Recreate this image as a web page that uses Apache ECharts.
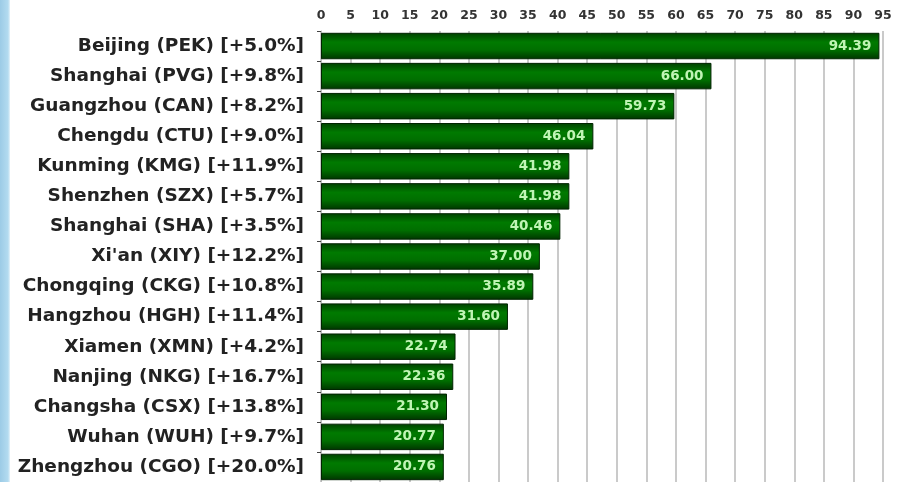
<!DOCTYPE html>
<html>
<head>
<meta charset="utf-8">
<script src="https://cdn.jsdelivr.net/npm/echarts@6/dist/echarts.min.js"></script>
<style>html,body{margin:0;padding:0;background:#fff;}#c{width:904px;height:482px;}</style>
</head>
<body>
<div id="c"></div>
<script>
const categories = [
  "Beijing (PEK) [+5.0%]",
  "Shanghai (PVG) [+9.8%]",
  "Guangzhou (CAN) [+8.2%]",
  "Chengdu (CTU) [+9.0%]",
  "Kunming (KMG) [+11.9%]",
  "Shenzhen (SZX) [+5.7%]",
  "Shanghai (SHA) [+3.5%]",
  "Xi'an (XIY) [+12.2%]",
  "Chongqing (CKG) [+10.8%]",
  "Hangzhou (HGH) [+11.4%]",
  "Xiamen (XMN) [+4.2%]",
  "Nanjing (NKG) [+16.7%]",
  "Changsha (CSX) [+13.8%]",
  "Wuhan (WUH) [+9.7%]",
  "Zhengzhou (CGO) [+20.0%]"
];
const values = [94.39, 66.00, 59.73, 46.04, 41.98, 41.98, 40.46, 37.00, 35.89, 31.60, 22.74, 22.36, 21.30, 20.77, 20.76];
const xMin = 0, xMax = 95, xStep = 5;

const chart = echarts.init(document.getElementById('c'), null, {renderer: 'canvas'});
chart.setOption({
  animation: false,
  backgroundColor: '#ffffff',
  graphic: [{
    type: 'rect', left: 0, top: 0, z: 100,
    shape: {width: 10, height: 482},
    style: {fill: new echarts.graphic.LinearGradient(0, 0, 1, 0, [
      {offset: 0, color: '#9ccbe6'}, {offset: 0.8, color: '#b3dbf0'}, {offset: 1, color: '#e6f3fa'}
    ])}
  }],
  grid: {left: 321, right: 21, top: 31, bottom: -1, containLabel: false},
  xAxis: {
    type: 'value', position: 'top', min: xMin, max: xMax, interval: xStep,
    axisLine: {show: false}, axisTick: {show: false},
    splitLine: {show: true, lineStyle: {color: '#b8b8b8', width: 1.5}},
    axisLabel: {color: '#333', fontFamily: 'DejaVu Sans', fontWeight: 'bold', fontSize: 12.5, margin: 9}
  },
  yAxis: {
    type: 'category', data: categories, inverse: true,
    axisLine: {show: true, lineStyle: {color: '#bbb'}},
    axisTick: {show: true, length: 4, lineStyle: {color: '#444'}},
    axisLabel: {color: '#222', fontFamily: 'DejaVu Sans', fontWeight: 'bold', fontSize: 18.5, margin: 17}
  },
  series: [{
    type: 'bar', data: values, barCategoryGap: '12%',
    itemStyle: {
      color: new echarts.graphic.LinearGradient(0, 0, 0, 1, [
        {offset: 0, color: '#004000'}, {offset: 0.35, color: '#007a00'},
        {offset: 0.65, color: '#006e00'}, {offset: 1, color: '#003500'}
      ]),
      borderColor: '#002400', borderWidth: 1
    },
    label: {
      show: true, position: 'insideRight', offset: [-3, 0],
      formatter: p => p.value.toFixed(2),
      color: '#c0f5b5', fontFamily: 'DejaVu Sans', fontWeight: 'bold', fontSize: 13.5
    }
  }]
});
</script>
</body>
</html>
